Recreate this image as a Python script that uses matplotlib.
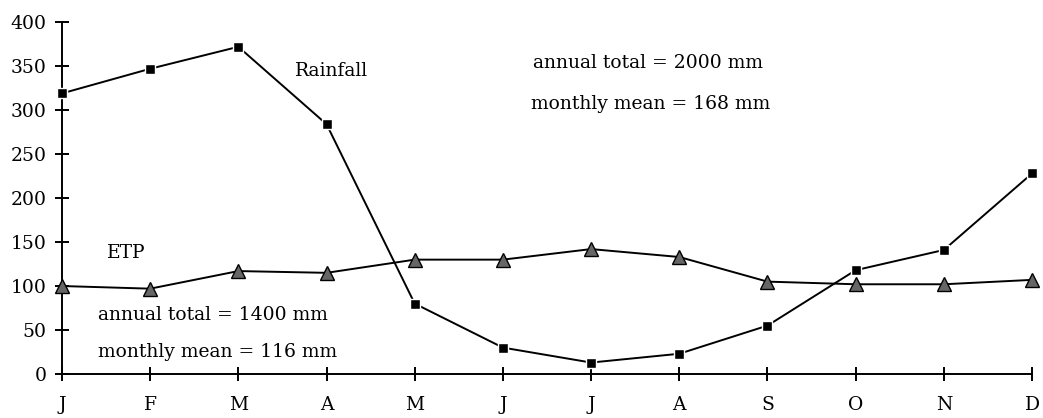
import numpy as np
import matplotlib
matplotlib.use("Agg")
import matplotlib.pyplot as plt

plt.rcParams["font.family"] = ["DejaVu Serif"]

months = ["J", "F", "M", "A", "M", "J", "J", "A", "S", "O", "N", "D"]
rainfall = [319, 347, 372, 284, 80, 30, 13, 23, 55, 118, 141, 228]
etp = [100, 97, 117, 115, 130, 130, 142, 133, 105, 102, 102, 107]

x = np.arange(len(months))

fig = plt.figure(figsize=(10.43, 4.18), dpi=100)
ax = fig.add_axes([0.0594, 0.1053, 0.9301, 0.8417])

ax.plot(x, rainfall, color="black", lw=1.4, marker="s", ms=6.5,
        mfc="black", mec="white", mew=1.0, zorder=3, clip_on=False)
ax.plot(x, etp, color="black", lw=1.4, marker="^", ms=10,
        mfc="#666666", mec="black", mew=1.0, zorder=3, clip_on=False)

ax.set_xlim(0, 11)
ax.set_ylim(0, 400)
ax.set_yticks(np.arange(0, 401, 50))
ax.set_xticks(x)
ax.set_xticklabels(months)
for s in ["top", "right"]:
    ax.spines[s].set_visible(False)
for s in ["left", "bottom"]:
    ax.spines[s].set_linewidth(1.4)
ax.tick_params(direction="inout", length=10, width=1.4, labelsize=13.5, colors="black")
ax.tick_params(axis="x", pad=11)
ax.tick_params(axis="y", pad=6)

fs = 13.5
ax.text(2.64, 344, "Rainfall", fontsize=fs, ha="left", va="center")
ax.text(0.51, 137, "ETP", fontsize=fs, ha="left", va="center")
ax.text(6.64, 354, "annual total = 2000 mm", fontsize=fs, ha="center", va="center")
ax.text(6.68, 307, "monthly mean = 168 mm", fontsize=fs, ha="center", va="center")
ax.text(1.71, 67, "annual total = 1400 mm", fontsize=fs, ha="center", va="center")
ax.text(1.77, 25, "monthly mean = 116 mm", fontsize=fs, ha="center", va="center")

fig.savefig("out.png", dpi=100)
